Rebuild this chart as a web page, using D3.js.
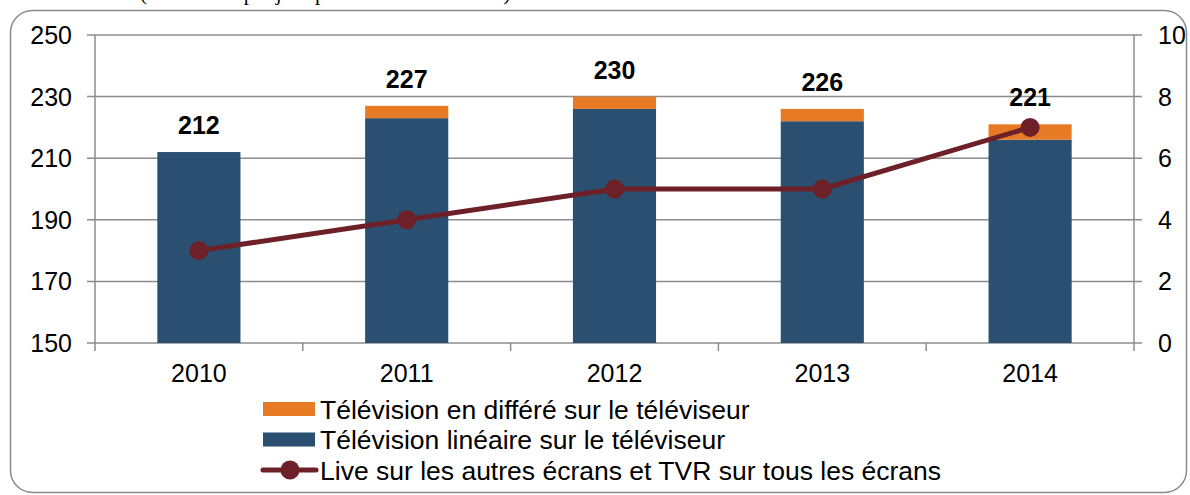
<!DOCTYPE html>
<html>
<head>
<meta charset="utf-8">
<script src="https://cdn.jsdelivr.net/npm/d3@7"></script>
<style>
  body { margin: 0; background: #fff; }
  svg { display: block; font-family: "Liberation Sans", Arial, sans-serif; }
</style>
</head>
<body>
<div id="chart"></div>
<script>
const years = ["2010", "2011", "2012", "2013", "2014"]
const lineaire = [212, 223, 226, 222, 216]
const differe = [0, 4, 4, 4, 5]
const totals = [212, 227, 230, 226, 221]
const autresEcrans = [3, 4, 5, 5, 7]
const leftTicks = [150, 170, 190, 210, 230, 250]
const rightTicks = [0, 2, 4, 6, 8, 10]
const legendLabels = [
    "Télévision en différé sur le téléviseur",
    "Télévision linéaire sur le téléviseur",
    "Live sur les autres écrans et TVR sur tous les écrans"
]

const width = 1190, height = 495
const margin = ({top: 35, right: 56, bottom: 152, left: 95})
const colors = {differe: "#e67a25", lineaire: "#2b4f70", line: "#6d2027", grid: "#8c8c8c"}

const svg = d3.select("#chart").append("svg")
    .attr("width", width)
    .attr("height", height)

// frame
svg.append("rect")
    .attr("x", 10.5).attr("y", 10.5)
    .attr("width", 1176).attr("height", 482)
    .attr("rx", 22)
    .attr("fill", "none")
    .attr("stroke", "#8a8a8a")
    .attr("stroke-width", 1.5)

// subtitle line of the page above, cut by the top edge as in the source
svg.append("text")
    .attr("x", 140).attr("y", 0)
    .attr("font-family", "'Liberation Serif', 'Times New Roman', serif")
    .attr("font-size", 21)
    .text("(en minutes par jour par individu 4 ans et +)")

const x = d3.scaleBand()
    .domain(years)
    .range([margin.left, width - margin.right])
    .paddingInner(0.6)
    .paddingOuter(0.3)

const y = d3.scaleLinear()
    .domain([150, 250])
    .range([height - margin.bottom, margin.top])

const y2 = d3.scaleLinear()
    .domain([0, 10])
    .range([height - margin.bottom, margin.top])

const x0 = margin.left, x1 = width - margin.right
const yBase = height - margin.bottom

// gridlines + ticks on both sides
svg.append("g")
    .selectAll("line")
    .data(leftTicks)
    .join("line")
    .attr("x1", x0 - 8).attr("x2", x1 + 8)
    .attr("y1", d => y(d)).attr("y2", d => y(d))
    .attr("stroke", colors.grid)
    .attr("stroke-width", 1.5)

// vertical axis lines
svg.append("line")
    .attr("x1", x0).attr("x2", x0)
    .attr("y1", margin.top).attr("y2", yBase + 8)
    .attr("stroke", colors.grid).attr("stroke-width", 1.5)
svg.append("line")
    .attr("x1", x1).attr("x2", x1)
    .attr("y1", margin.top).attr("y2", yBase + 8)
    .attr("stroke", colors.grid).attr("stroke-width", 1.5)

// category separators below the axis
const sepX = d => x(d) - (x.step() - x.bandwidth()) / 2
svg.append("g")
    .selectAll("line")
    .data(years.slice(1))
    .join("line")
    .attr("x1", sepX).attr("x2", sepX)
    .attr("y1", yBase).attr("y2", yBase + 8)
    .attr("stroke", colors.grid).attr("stroke-width", 1.5)

// tick labels
svg.append("g")
    .selectAll("text")
    .data(leftTicks)
    .join("text")
    .attr("x", x0 - 23)
    .attr("y", d => y(d))
    .attr("dy", "0.36em")
    .attr("text-anchor", "end")
    .attr("font-size", 25)
    .text(d => d)

svg.append("g")
    .selectAll("text")
    .data(rightTicks)
    .join("text")
    .attr("x", x1 + 24)
    .attr("y", d => y2(d))
    .attr("dy", "0.36em")
    .attr("font-size", 25)
    .text(d => d)

svg.append("g")
    .selectAll("text")
    .data(years)
    .join("text")
    .attr("x", d => x(d) + x.bandwidth() / 2)
    .attr("y", yBase + 39)
    .attr("text-anchor", "middle")
    .attr("font-size", 25)
    .text(d => d)

// stacked bars
svg.append("g")
    .selectAll("rect")
    .data(years)
    .join("rect")
    .attr("x", d => x(d))
    .attr("width", x.bandwidth())
    .attr("y", (d, i) => y(lineaire[i]))
    .attr("height", (d, i) => yBase - y(lineaire[i]))
    .attr("fill", colors.lineaire)

svg.append("g")
    .selectAll("rect")
    .data(years)
    .join("rect")
    .attr("x", d => x(d))
    .attr("width", x.bandwidth())
    .attr("y", (d, i) => y(lineaire[i] + differe[i]))
    .attr("height", (d, i) => y(lineaire[i]) - y(lineaire[i] + differe[i]))
    .attr("fill", colors.differe)

// total labels
svg.append("g")
    .selectAll("text")
    .data(years)
    .join("text")
    .attr("x", d => x(d) + x.bandwidth() / 2)
    .attr("y", (d, i) => y(totals[i]) - 18)
    .attr("text-anchor", "middle")
    .attr("font-size", 25)
    .attr("font-weight", "bold")
    .text((d, i) => totals[i])

// line on the right axis
const line = d3.line()
    .x((d, i) => x(years[i]) + x.bandwidth() / 2)
    .y(d => y2(d))

svg.append("path")
    .datum(autresEcrans)
    .attr("d", line)
    .attr("fill", "none")
    .attr("stroke", colors.line)
    .attr("stroke-width", 5)

svg.append("g")
    .selectAll("circle")
    .data(autresEcrans)
    .join("circle")
    .attr("cx", (d, i) => x(years[i]) + x.bandwidth() / 2)
    .attr("cy", d => y2(d))
    .attr("r", 9.5)
    .attr("fill", colors.line)

// legend
const legend = svg.append("g").attr("transform", "translate(263, 409)")
const rows = legend.selectAll("g")
    .data(legendLabels)
    .join("g")
    .attr("transform", (d, i) => `translate(0, ${i * 30.5})`)

rows.filter((d, i) => i < 2).append("rect")
    .attr("x", 0).attr("y", -7)
    .attr("width", 52).attr("height", 14)
    .attr("fill", (d, i) => i === 0 ? colors.differe : colors.lineaire)

const lineRow = rows.filter((d, i) => i === 2)
lineRow.append("line")
    .attr("x1", 0).attr("x2", 53)
    .attr("y1", 0).attr("y2", 0)
    .attr("stroke", colors.line)
    .attr("stroke-width", 5)
    .attr("stroke-linecap", "round")
lineRow.append("circle")
    .attr("cx", 27).attr("cy", 0)
    .attr("r", 9.5)
    .attr("fill", colors.line)

rows.append("text")
    .attr("x", 57)
    .attr("y", 0)
    .attr("dy", "0.36em")
    .attr("font-size", 26.5)
    .text(d => d)
</script>
</body>
</html>
